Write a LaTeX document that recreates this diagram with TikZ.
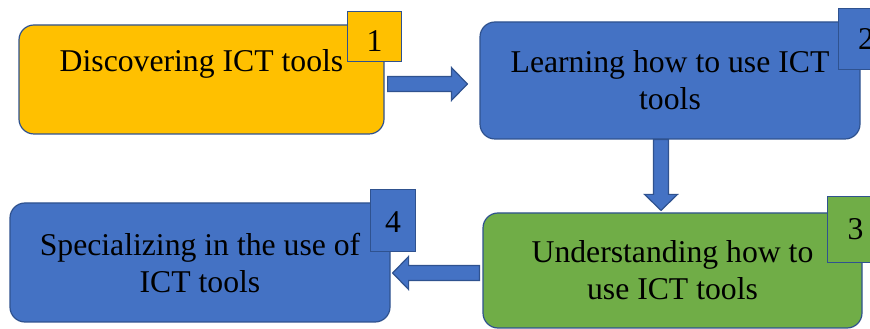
\documentclass[tikz,border=0pt]{standalone}
\usepackage{fontspec}
\setmainfont{Liberation Serif}
\usetikzlibrary{calc,positioning}
\definecolor{stageyellow}{RGB}{255,192,0}
\definecolor{stageblue}{RGB}{68,114,196}
\definecolor{stagegreen}{RGB}{112,173,71}
\definecolor{edgeblue}{RGB}{47,82,143}

\begin{document}
\begin{tikzpicture}[
        x=1pt, y=1pt,
        % Office-like rounded boxes with a dark blue outline
        stage/.style={rectangle, rounded corners=15pt, draw=edgeblue, line width=1.2pt,
            fill=#1, text=black, inner sep=0pt,
            align=center, font=\fontsize{31.7}{37}\selectfont},
        numbox/.style={rectangle, draw=edgeblue, line width=1.2pt, fill=#1,
            inner sep=0pt, font=\fontsize{31.7}{37}\selectfont},
        blockarrow/.style={draw=edgeblue, line width=1.2pt, fill=stageblue,
            to path={($(\tikztotarget)!16pt!(\tikztostart)$) coordinate (hb)
                ($(\tikztostart)!7.5pt!90:(\tikztotarget)$)
                -- ($(hb)!7.5pt!90:(\tikztotarget)$)
                -- ($(hb)!16.5pt!90:(\tikztotarget)$)
                -- (\tikztotarget)
                -- ($(hb)!16.5pt!-90:(\tikztotarget)$)
                -- ($(hb)!7.5pt!-90:(\tikztotarget)$)
                -- ($(\tikztostart)!7.5pt!-90:(\tikztotarget)$) -- cycle}}
    ]
        \useasboundingbox (0,0) rectangle (870,329);

        % Stages
        \node[stage=stageyellow, minimum width=365pt, minimum height=109pt] (disc) at (201.5,249.5) {Discovering ICT tools\\ \mbox{}};
        \node[stage=stageblue, minimum width=380pt, minimum height=117pt] (learn) at (670,248.5) {Learning how to use ICT\\tools};
        \node[stage=stagegreen, minimum width=379pt, minimum height=115pt] (under) at (672.5,58.5) {Understanding how to\\use ICT tools};
        \node[stage=stageblue, minimum width=380pt, minimum height=119pt] (spec) at (200,66.5) {Specializing in the use of\\ICT tools};

        % Step numbers
        \node[numbox=stageyellow, minimum width=54pt, text height=40pt, text depth=10pt] (n1) at ([xshift=-10pt,yshift=-12pt]disc.north east) {1};
        \node[numbox=stageblue, minimum width=55pt, text height=41pt, text depth=20pt] (n2) at ([xshift=5.5pt,yshift=-17.5pt]learn.north east) {2};
        \node[numbox=stagegreen, minimum width=56pt, text height=43pt, text depth=23pt] (n3) at ([xshift=-7pt,yshift=-17pt]under.north east) {3};
        \node[numbox=stageblue, minimum width=45pt, text height=43pt, text depth=19pt] (n4) at ([xshift=2.5pt,yshift=-18pt]spec.north east) {4};

        % Connections
        \coordinate (a1) at ([xshift=3pt,yshift=-4.5pt]disc.east);
        \coordinate (a2) at ([xshift=-12pt,yshift=-3.5pt]learn.west);
        \coordinate (b1) at ([xshift=-9pt]learn.south);
        \coordinate (b2) at ([xshift=-11.5pt,yshift=2pt]under.north);
        \coordinate (c1) at ([xshift=-3pt,yshift=-2.5pt]under.west);
        \coordinate (c2) at ([xshift=2pt,yshift=-10.5pt]spec.east);
        \draw[blockarrow] (a1) to (a2);
        \draw[blockarrow] (b1) to (b2);
        \draw[blockarrow] (c1) to (c2);
    \end{tikzpicture}
\end{document}
